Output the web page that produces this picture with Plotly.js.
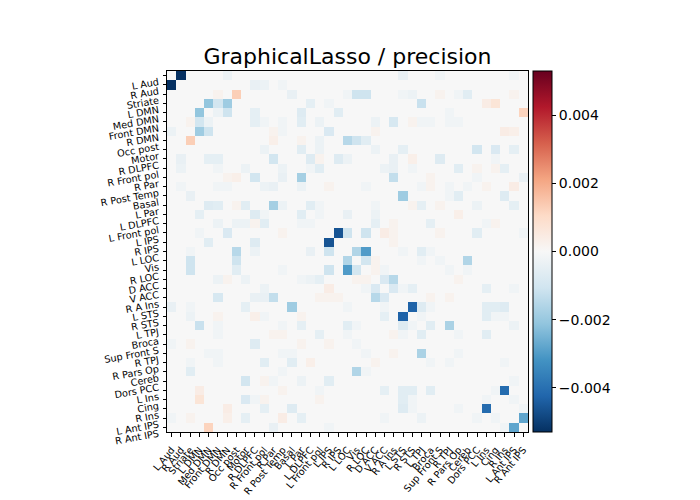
<!DOCTYPE html>
<html>
<head>
<meta charset="utf-8">
<script src="https://cdn.plot.ly/plotly-3.0.1.min.js"></script>
<style>html,body{margin:0;padding:0;background:#fff;}#chart{width:700px;height:500px;}</style>
</head>
<body>
<div id="chart"></div>
<script>
const labels = ["L Aud","R Aud","Striate","L DMN","Med DMN","Front DMN","R DMN","Occ post","Motor","R DLPFC","R Front pol","R Par","R Post Temp","Basal","L Par","L DLPFC","L Front pol","L IPS","R IPS","L LOC","Vis","R LOC","D ACC","V ACC","R A Ins","L STS","R STS","L TPJ","Broca","Sup Front S","R TPJ","R Pars Op","Cereb","Dors PCC","L Ins","Cing","R Ins","L Ant IPS","R Ant IPS"];

// Upper triangle of the symmetric precision matrix, one list per row:
// upperCols[i] = column indices (> i) with a visible value, upperVals[i] = those values
const upperCols = [
  [1,6,25,29,37],
  [9,10,12],
  [5,7,13,19,20,21,25,26,29,31,32,37],
  [4,5,6,15,17,27,34,35],
  [5,6,9,14,18,30,38],
  [9,10,12,14,16,22,24,26,27,28,30,31],
  [11,12,17,22,36,37],
  [11,14,16,19,20,21],
  [10,14,16,22,25,33,35,37],
  [11,15,16,18,19,24,26,29,35],
  [12,15,16,23,24,26,31,33,35,36],
  [12,14,24,28,33,38],
  [14,17,21,27,28,30,32,34,37],
  [25,30,31,36],
  [15,16,22,26,27,29,33,37],
  [16,19,22,31],
  [22,24,28,34,35],
  [18,19,21,23,24,29,33,38],
  [24],
  [20,21,25,27,28],
  [21,22,27,29,32],
  [22,23,30,32],
  [23,24,31],
  [24,25,26,34,37],
  [28,30],
  [26,27,28,34,35,36],
  [27,34,35,36],
  [28,30,37],
  [31,34],
  [],
  [31],
  [36],
  [],
  [37],
  [35,36],
  [37],
  [38],
  [38],
  []
];
const upperVals = [
  [-0.0053,-0.0003,-0.0004,-0.0002,-0.0002],
  [-0.0004,-0.0003,-0.0002],
  [0.0002,0.0013,-0.0004,-0.0002,-0.0011,-0.0011,-0.0002,-0.0003,0.0002,-0.0002,-0.0006,0.0002],
  [-0.0021,-0.0010,-0.0019,-0.0005,-0.0002,-0.0012,0.0004,0.0007],
  [-0.0003,-0.0011,-0.0005,-0.0007,-0.0006,-0.0002,0.0012],
  [-0.0005,-0.0002,-0.0002,-0.0006,-0.0003,-0.0003,-0.0009,0.0002,-0.0002,-0.0002,-0.0002,-0.0002],
  [0.0002,-0.0002,-0.0008,0.0002,0.0004,0.0003],
  [0.0003,0.0002,-0.0003,-0.0015,-0.0011,-0.0006],
  [-0.0003,-0.0006,-0.0003,-0.0003,-0.0005,-0.0010,-0.0008,-0.0005],
  [-0.0010,-0.0007,0.0002,-0.0007,-0.0003,-0.0004,0.0003,-0.0007,-0.0002],
  [-0.0003,-0.0002,-0.0006,-0.0003,-0.0004,-0.0002,-0.0006,0.0002,0.0002,-0.0005],
  [-0.0004,-0.0018,-0.0013,0.0002,-0.0002,-0.0004],
  [-0.0003,0.0002,-0.0002,-0.0002,0.0002,-0.0002,-0.0002,0.0002,0.0004],
  [-0.0019,-0.0002,-0.0006,-0.0007],
  [-0.0006,-0.0002,-0.0002,0.0002,-0.0005,0.0002,-0.0003,-0.0005],
  [-0.0002,-0.0004,-0.0003,0.0003],
  [-0.0005,0.0002,-0.0005,-0.0002,0.0002],
  [-0.0046,-0.0011,-0.0011,0.0004,0.0002,0.0002,-0.0006,-0.0002],
  [0.0002],
  [-0.0016,-0.0030,-0.0002,-0.0006,-0.0002],
  [-0.0010,0.0002,-0.0002,-0.0002,-0.0016],
  [0.0002,-0.0002,-0.0002,-0.0002],
  [-0.0008,-0.0015,0.0002],
  [-0.0008,-0.0002,-0.0005,-0.0005,-0.0002],
  [0.0002,0.0002],
  [-0.0043,-0.0007,-0.0002,-0.0006,-0.0006,-0.0007],
  [-0.0002,-0.0006,-0.0002,-0.0002],
  [-0.0006,-0.0017,-0.0003],
  [-0.0002,-0.0006],
  [],
  [-0.0002],
  [-0.0002],
  [],
  [-0.0002],
  [-0.0002,-0.0041],
  [-0.0002],
  [-0.0002],
  [-0.0028],
  []
];

const colorTicks = [-0.004,-0.002,0,0.002,0.004];
const colorTickText = ["\u22120.004","\u22120.002","0.000","0.002","0.004"];

const n = labels.length;
const z = [];
for (let i = 0; i < n; i++) { z.push(new Array(n).fill(0)); }
for (let i = 0; i < n; i++) {
  const cols = upperCols[i] || [];
  const vals = upperVals[i] || [];
  for (let k = 0; k < cols.length; k++) {
    const j = cols[k];
    const v = vals[k] || 0;
    if (j >= 0 && j < n) { z[i][j] = v; z[j][i] = v; }
  }
}
const idx = labels.map((_, i) => i);

const rdbu_r = [
  [0.0,"#053061"],[0.1,"#2166ac"],[0.2,"#4393c3"],[0.3,"#92c5de"],[0.4,"#d1e5f0"],
  [0.5,"#f7f7f7"],[0.6,"#fddbc7"],[0.7,"#f4a582"],[0.8,"#d6604d"],[0.9,"#b2182b"],[1.0,"#67001f"]
];

const trace = {
  type: "heatmap",
  x: idx, y: idx, z: z,
  zmin: -0.0053, zmax: 0.0053,
  colorscale: rdbu_r,
  hoverinfo: "none",
  colorbar: {
    x: 1.014, xanchor: "left", xref: "paper",
    y: 0.5, yanchor: "middle", len: 1, lenmode: "fraction",
    thickness: 19, thicknessmode: "pixels",
    outlinewidth: 1, outlinecolor: "#000",
    tickmode: "array", tickvals: colorTicks, ticktext: colorTickText,
    ticks: "outside", ticklen: 4, tickcolor: "#000",
    tickfont: {family: "DejaVu Sans", size: 14, color: "#000"},
    xpad: 0, ypad: 0
  }
};

const axisCommon = {
  tickmode: "array", tickvals: idx, ticktext: labels,
  ticks: "outside", ticklen: 3.5, tickcolor: "#000", tickwidth: 1,
  showline: true, mirror: true, linecolor: "#000", linewidth: 1,
  showgrid: false, zeroline: false,
  tickfont: {family: "DejaVu Sans", size: 9.7, color: "#000"},
  fixedrange: true
};

const layout = {
  width: 700, height: 500,
  margin: {l: 167, r: 172, t: 71, b: 68, pad: 0},
  paper_bgcolor: "#fff", plot_bgcolor: "#fff",
  font: {family: "DejaVu Sans", color: "#000"},
  title: {text: "GraphicalLasso / precision", font: {family: "DejaVu Sans", size: 22, color: "#000"},
          x: 0.4964, xanchor: "center", xref: "container", y: 0.888, yanchor: "middle", yref: "container"},
  xaxis: Object.assign({}, axisCommon, {range: [-0.5, n - 0.5], tickangle: -50, ticklabelstandoff: 4}),
  yaxis: Object.assign({}, axisCommon, {range: [n - 0.5, -0.5], tickangle: -10, ticklabelshift: -6, ticklabelstandoff: 2})
};

Plotly.newPlot("chart", [trace], layout, {displayModeBar: false, staticPlot: true});
</script>
</body>
</html>
